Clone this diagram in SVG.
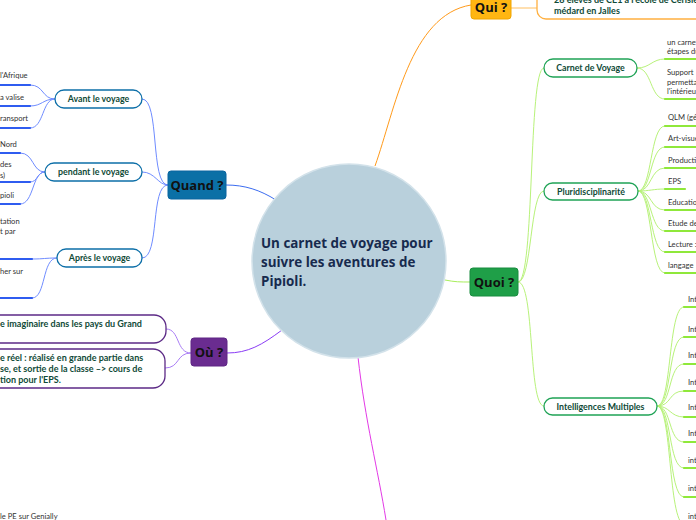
<svg xmlns="http://www.w3.org/2000/svg" width="696" height="520" viewBox="0 0 696 520">
<style>
.main{font-family:"Open Sans","Noto Sans",sans-serif;font-weight:700;font-size:13px;fill:#111;text-anchor:middle}
.sub{font-family:Lato,"Open Sans",sans-serif;font-weight:700;font-size:8.8px;fill:#0f4a37;text-anchor:middle}
.subl{font-family:Lato,"Open Sans",sans-serif;font-weight:700;font-size:9px;fill:#0f4a37}
.leaf{font-family:Lato,"Open Sans",sans-serif;font-size:7.6px;fill:#333}
.c{fill:none;stroke-width:1}
.bl{stroke:#6f8cff}
.pu{stroke:#a97cf5}
.gr{stroke:#b8f27a}
.ul{fill:none;stroke-width:2.2;stroke-linecap:round}
.box{fill:#fff;stroke-width:1.3}
</style>
<rect width="696" height="520" fill="#fff"/>
<g id="connectors">
<path class="c" d="M375,166 C395,110 410,15 471,5" stroke="#ff9a1a" stroke-width="1.3"/>
<path class="c" d="M511,8 L537,8" stroke="#ffbf60"/>
<path class="c" d="M276,200 C260,190 245,185 226,185" stroke="#3b6cf0" stroke-width="1.3"/>
<path class="c" d="M282,330 C262,345 248,353 227,353" stroke="#8a3cf5" stroke-width="1.3"/>
<path class="c" d="M445,280 C455,282 460,282 470,282" stroke="#a8ee5a" stroke-width="1.3"/>
<path class="c" d="M358,357 C365,420 378,470 386,520" stroke="#e339e6" stroke-width="1.3"/>
<path class="c bl" d="M168,185 C150,185 160,99 142,99"/>
<path class="c bl" d="M168,185 C158,185 155,172 142,172"/>
<path class="c bl" d="M168,185 C150,185 160,258 142,258"/>
<path class="c bl" d="M30,85 C44,85 42,99 55,99"/>
<path class="c bl" d="M30,106 C42,106 43,99 55,99"/>
<path class="c bl" d="M30,128 C44,128 42,99 55,99"/>
<path class="c bl" d="M20,153 C34,153 32,172 45,172"/>
<path class="c bl" d="M30,182 C38,182 37,172 45,172"/>
<path class="c bl" d="M20,204 C34,204 32,172 45,172"/>
<path class="c bl" d="M32,259 C44,259 45,258 57,258"/>
<path class="c bl" d="M32,298 C46,298 42,258 57,258"/>
<path class="c pu" d="M191,353 C176,353 180,329 166,329"/>
<path class="c pu" d="M191,353 C176,353 180,368 165,368"/>
<path class="c gr" d="M518,282 C535,282 528,68 544,68"/>
<path class="c gr" d="M518,282 C532,282 530,191 544,191"/>
<path class="c gr" d="M518,282 C535,282 528,406 544,406"/>
<path class="c gr" d="M637,68 C650,68 652,59 665,59"/>
<path class="c gr" d="M637,68 C652,68 650,99 665,99"/>
<path class="c gr" d="M638,191 C652,191 650,126 665,126"/>
<path class="c gr" d="M638,191 C652,191 650,147 665,147"/>
<path class="c gr" d="M638,191 C652,191 650,168 665,168"/>
<path class="c gr" d="M638,191 C650,191 653,189 665,189"/>
<path class="c gr" d="M638,191 C652,191 650,210 665,210"/>
<path class="c gr" d="M638,191 C652,191 650,231 665,231"/>
<path class="c gr" d="M638,191 C652,191 650,252 665,252"/>
<path class="c gr" d="M638,191 C652,191 650,273 665,273"/>
<path class="c gr" d="M657,406 C672,406 668,307 684,307"/>
<path class="c gr" d="M657,406 C672,406 668,337 684,337"/>
<path class="c gr" d="M657,406 C672,406 668,364 684,364"/>
<path class="c gr" d="M657,406 C672,406 668,391 684,391"/>
<path class="c gr" d="M657,406 C670,406 670,417 684,417"/>
<path class="c gr" d="M657,406 C672,406 668,442 684,442"/>
<path class="c gr" d="M657,406 C672,406 668,468 684,468"/>
<path class="c gr" d="M657,406 C672,406 668,497 684,497"/>
<path class="c gr" d="M657,406 C672,406 668,520 684,525"/>
</g>
<g id="center">
<circle cx="349" cy="261" r="97" fill="#b9d0dc" stroke="#d3e2ea" stroke-width="1.5"/>
<text x="261" y="248" font-family="'Open Sans','Noto Sans',sans-serif" font-weight="700" font-size="13.4" fill="#172a4e">Un carnet de voyage pour</text>
<text x="261" y="267" font-family="'Open Sans','Noto Sans',sans-serif" font-weight="700" font-size="13.4" fill="#172a4e">suivre les aventures de</text>
<text x="261" y="286" font-family="'Open Sans','Noto Sans',sans-serif" font-weight="700" font-size="13.4" fill="#172a4e">Pipioli.</text>
</g>
<g id="qui">
<rect x="471" y="-6" width="40" height="25" rx="3" fill="#ffb612" stroke="#f0a500"/>
<text class="main" x="491" y="12">Qui ?</text>
</g>
<g id="qui-eleves">
<rect x="537" y="-12" width="175" height="31" rx="9" class="box" stroke="#ffb040"/>
<text class="subl" x="554" y="3">28 élèves de CE1 à l'école de Cerisiers, Saint</text>
<text class="subl" x="554" y="14">médard en Jalles</text>
</g>
<g id="quand">
<rect x="168" y="171" width="58" height="28" rx="3" fill="#0b70a6" stroke="#0a65a0"/>
<text class="main" x="197" y="190">Quand ?</text>
</g>
<g id="ou">
<rect x="191" y="338" width="36" height="28" rx="3" fill="#6a2c90" stroke="#5e2585"/>
<text class="main" x="209" y="357">Où ?</text>
</g>
<g id="quoi">
<rect x="470" y="268" width="48" height="28" rx="3" fill="#1f9f48" stroke="#188c3e"/>
<text class="main" x="494" y="287">Quoi ?</text>
</g>
<g id="avant">
<rect x="55" y="90" width="87" height="18" rx="9" class="box" stroke="#0d6fa8"/>
<text class="sub" x="98.5" y="102">Avant le voyage</text>
</g>
<g id="pendant">
<rect x="45" y="163" width="97" height="18" rx="9" class="box" stroke="#0d6fa8"/>
<text class="sub" x="93.5" y="175">pendant le voyage</text>
</g>
<g id="apres">
<rect x="57" y="249" width="85" height="18" rx="9" class="box" stroke="#0d6fa8"/>
<text class="sub" x="99.5" y="261">Après le voyage</text>
</g>
<g id="leaves-quand">
<text class="leaf" x="0" y="78">l'Afrique</text>
<path class="ul" d="M0,85 L30,85" stroke="#2f5cf0"/>
<text class="leaf" x="0" y="100">a valise</text>
<path class="ul" d="M0,106 L30,106" stroke="#2f5cf0"/>
<text class="leaf" x="0" y="121">ransport</text>
<path class="ul" d="M0,128 L30,128" stroke="#2f5cf0"/>
<text class="leaf" x="0" y="147">Nord</text>
<path class="ul" d="M0,153 L20,153" stroke="#2f5cf0"/>
<text class="leaf" x="0" y="167">des</text>
<text class="leaf" x="0" y="178">s)</text>
<path class="ul" d="M0,182 L30,182" stroke="#2f5cf0"/>
<text class="leaf" x="0" y="198">pioli</text>
<path class="ul" d="M0,204 L20,204" stroke="#2f5cf0"/>
<text class="leaf" x="0" y="224">tation</text>
<text class="leaf" x="0" y="234">t par</text>
<path class="ul" d="M0,259 L32,259" stroke="#2f5cf0"/>
<text class="leaf" x="0" y="274">her sur</text>
<path class="ul" d="M0,298 L32,298" stroke="#2f5cf0"/>
</g>
<g id="ou-imaginaire">
<rect x="-30" y="315" width="196" height="28" rx="12" class="box" stroke="#5c2a86"/>
<text class="subl" x="0" y="327">e imaginaire dans les pays du  Grand</text>
</g>
<g id="ou-reel">
<rect x="-30" y="349" width="195" height="39" rx="12" class="box" stroke="#5c2a86"/>
<text class="subl" x="0" y="361">e réel : réalisé en grande partie dans</text>
<text class="subl" x="0" y="372">se, et sortie de la classe –&gt; cours de</text>
<text class="subl" x="0" y="383">tion pour l'EPS.</text>
</g>
<g id="carnet">
<rect x="544" y="59" width="93" height="18" rx="9" class="box" stroke="#1fa356"/>
<text class="sub" x="590.5" y="71">Carnet de Voyage</text>
</g>
<g id="pluri">
<rect x="544" y="183" width="94" height="17" rx="8.5" class="box" stroke="#1fa356"/>
<text class="sub" x="591" y="194.5">Pluridisciplinarité</text>
</g>
<g id="intelligences">
<rect x="544" y="398" width="113" height="17" rx="8.5" class="box" stroke="#1fa356"/>
<text class="sub" x="600.5" y="409.5">Intelligences Multiples</text>
</g>
<g id="leaves-quoi">
<text class="leaf" x="667" y="45">un carnet</text>
<text class="leaf" x="667" y="54">étapes du</text>
<path class="ul" d="M665,59 L700,59" stroke="#8fe83a"/>
<text class="leaf" x="667" y="75">Support</text>
<text class="leaf" x="667" y="85">permettant</text>
<text class="leaf" x="667" y="94">l'intérieur</text>
<path class="ul" d="M665,99 L700,99" stroke="#8fe83a"/>
<text class="leaf" x="668" y="120">QLM (géo</text>
<path class="ul" d="M665,126 L700,126" stroke="#8fe83a"/>
<text class="leaf" x="668" y="141">Art-visuels</text>
<path class="ul" d="M665,147 L700,147" stroke="#8fe83a"/>
<text class="leaf" x="668" y="163">Production</text>
<path class="ul" d="M665,168 L700,168" stroke="#8fe83a"/>
<text class="leaf" x="668" y="184">EPS</text>
<path class="ul" d="M665,189 L685,189" stroke="#8fe83a"/>
<text class="leaf" x="668" y="205">Education</text>
<path class="ul" d="M665,210 L700,210" stroke="#8fe83a"/>
<text class="leaf" x="668" y="226">Etude de</text>
<path class="ul" d="M665,231 L700,231" stroke="#8fe83a"/>
<text class="leaf" x="668" y="247">Lecture :</text>
<path class="ul" d="M665,252 L700,252" stroke="#8fe83a"/>
<text class="leaf" x="668" y="268">langage</text>
<path class="ul" d="M665,273 L700,273" stroke="#8fe83a"/>
<text class="leaf" x="688" y="302">Int</text>
<path class="ul" d="M684,307 L700,307" stroke="#8fe83a"/>
<text class="leaf" x="688" y="332">Int</text>
<path class="ul" d="M684,337 L700,337" stroke="#8fe83a"/>
<text class="leaf" x="688" y="358">Int</text>
<path class="ul" d="M684,364 L700,364" stroke="#8fe83a"/>
<text class="leaf" x="688" y="385">Int</text>
<path class="ul" d="M684,391 L700,391" stroke="#8fe83a"/>
<text class="leaf" x="688" y="410">Int</text>
<path class="ul" d="M684,417 L700,417" stroke="#8fe83a"/>
<text class="leaf" x="688" y="436">Int</text>
<path class="ul" d="M684,442 L700,442" stroke="#8fe83a"/>
<text class="leaf" x="688" y="463">int</text>
<path class="ul" d="M684,468 L700,468" stroke="#8fe83a"/>
<text class="leaf" x="688" y="491">int</text>
<path class="ul" d="M684,497 L700,497" stroke="#8fe83a"/>
<text class="leaf" x="688" y="519">int</text>
</g>
<g id="leaf-genially">
<text class="leaf" x="0" y="519">le PE sur Genially</text>
</g>
</svg>
